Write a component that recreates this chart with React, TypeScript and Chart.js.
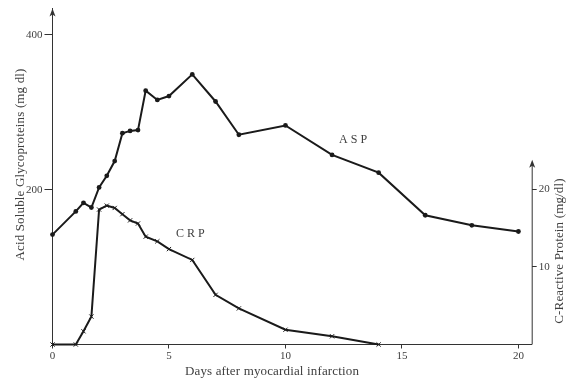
import React, { useEffect, useRef } from "react";
import { Chart, registerables } from "chart.js";

Chart.register(...registerables);

// Days after infarction at which acid soluble glycoproteins were sampled
const ASP_DAYS = [0, 1, 1.33, 1.67, 2, 2.33, 2.67, 3, 3.33, 3.67, 4, 4.5, 5, 6, 7, 8, 10, 12, 14, 16, 18, 20];
// Acid soluble glycoproteins, mg/dl
const ASP_VALUES = [142, 172, 183, 177, 203, 218, 237, 273, 276, 277, 328, 316, 321, 349, 314, 271, 283, 245, 222, 167, 154, 146];

// Days at which C-reactive protein was sampled
const CRP_DAYS = [0, 1, 1.33, 1.67, 2, 2.33, 2.67, 3, 3.33, 3.67, 4, 4.5, 5, 6, 7, 8, 10, 12, 14];
// C-reactive protein, mg/dl
const CRP_VALUES = [0, 0, 1.7, 3.6, 17.4, 17.9, 17.6, 16.8, 16.0, 15.6, 13.9, 13.3, 12.3, 10.9, 6.4, 4.65, 1.9, 1.06, 0];

const X_TICKS = [0, 5, 10, 15, 20];
const ASP_TICKS = [200, 400];
const CRP_TICKS = [10, 20];

const X_TITLE = "Days after myocardial infarction";
const ASP_TITLE = "Acid Soluble Glycoproteins (mg dl)";
const CRP_TITLE = "C-Reactive Protein (mg/dl)";
const ASP_LABEL = "A S P";
const CRP_LABEL = "C R P";

const SERIF = "'Liberation Serif', 'DejaVu Serif', serif";
const INK = "#1a1a1a";
const AXIS = "#333333";
const TEXT = "#404040";

const X_MAX = 20.57;
const ASP_MAX = 434;
const CRP_MAX = 43.3;
const CRP_AXIS_TOP = 23.8;

function arrowUp(ctx: CanvasRenderingContext2D, x: number, y: number) {
  ctx.beginPath();
  ctx.moveTo(x, y);
  ctx.lineTo(x - 3, y + 8);
  ctx.lineTo(x, y + 6);
  ctx.lineTo(x + 3, y + 8);
  ctx.closePath();
  ctx.fill();
}

const decorations = {
  id: "decorations",
  afterDraw(chart: any) {
    const { ctx, chartArea, scales } = chart;
    const x = scales.x;
    const yR = scales.y2;
    const yL = scales.y;
    ctx.save();
    ctx.strokeStyle = AXIS;
    ctx.fillStyle = AXIS;
    ctx.lineWidth = 1;

    // right-hand CRP axis only runs as high as its arrow
    const rx = chartArea.right + 0.5;
    const rTop = yR.getPixelForValue(CRP_AXIS_TOP);
    ctx.beginPath();
    ctx.moveTo(rx, chartArea.bottom);
    ctx.lineTo(rx, rTop + 4);
    ctx.stroke();
    arrowUp(ctx, rx, rTop);

    // arrow on the ASP axis
    arrowUp(ctx, chartArea.left, chartArea.top);

    // axis titles
    ctx.fillStyle = TEXT;
    ctx.font = `13px ${SERIF}`;
    (ctx as any).letterSpacing = "0.15px";
    ctx.textAlign = "center";
    ctx.textBaseline = "middle";
    ctx.fillText(X_TITLE, 272, 371.5);

    ctx.save();
    ctx.translate(20.5, 164.5);
    ctx.rotate(-Math.PI / 2);
    ctx.fillText(ASP_TITLE, 0, 0);
    ctx.restore();

    ctx.save();
    ctx.translate(560, 251);
    ctx.rotate(-Math.PI / 2);
    ctx.fillText(CRP_TITLE, 0, 0);
    ctx.restore();

    // series labels
    (ctx as any).letterSpacing = "0px";
    ctx.font = `12px ${SERIF}`;
    ctx.textAlign = "left";
    ctx.fillText(ASP_LABEL, x.getPixelForValue(12.3), yL.getPixelForValue(264));
    ctx.fillText(CRP_LABEL, x.getPixelForValue(5.3), yR.getPixelForValue(14.2));
    ctx.restore();
  },
};

export default function App() {
  const canvasRef = useRef<HTMLCanvasElement | null>(null);

  useEffect(() => {
    const canvas = canvasRef.current;
    if (!canvas) return;

    const tickFont = { family: SERIF, size: 11 };

    const chart = new Chart(canvas, {
      type: "line",
      data: {
        datasets: [
          {
            label: "ASP",
            data: ASP_DAYS.map((d, i) => ({ x: d, y: ASP_VALUES[i] })),
            yAxisID: "y",
            borderColor: INK,
            backgroundColor: INK,
            borderWidth: 2,
            pointStyle: "circle",
            pointRadius: 2.4,
            pointBorderWidth: 0,
            pointBackgroundColor: INK,
            tension: 0,
            clip: false as any,
          },
          {
            label: "CRP",
            data: CRP_DAYS.map((d, i) => ({ x: d, y: CRP_VALUES[i] })),
            yAxisID: "y2",
            borderColor: INK,
            backgroundColor: INK,
            borderWidth: 2,
            pointStyle: "crossRot",
            pointRadius: 3,
            pointBorderWidth: 1,
            pointBorderColor: INK,
            tension: 0,
            clip: false as any,
          },
        ],
      },
      options: {
        responsive: false,
        animation: false,
        devicePixelRatio: 1,
        layout: { padding: { top: 7, left: 0, right: 0, bottom: 0 } },
        plugins: {
          legend: { display: false },
          tooltip: { enabled: false },
        },
        scales: {
          x: {
            type: "linear",
            min: 0,
            max: X_MAX,
            afterBuildTicks: (s: any) => {
              s.ticks = X_TICKS.map((v) => ({ value: v }));
            },
            afterFit: (s: any) => {
              s.height = 36.5;
            },
            ticks: { font: tickFont, color: TEXT, padding: 1, maxRotation: 0 },
            grid: { drawOnChartArea: false, drawTicks: true, tickLength: 4, color: AXIS },
            border: { display: true, color: AXIS, width: 1 },
          },
          y: {
            type: "linear",
            position: "left",
            min: 0,
            max: ASP_MAX,
            afterBuildTicks: (s: any) => {
              s.ticks = ASP_TICKS.map((v) => ({ value: v }));
            },
            afterFit: (s: any) => {
              s.width = 52.5;
            },
            ticks: { font: tickFont, color: TEXT, padding: 2 },
            grid: { drawOnChartArea: false, drawTicks: true, tickLength: 8, color: AXIS },
            border: { display: true, color: AXIS, width: 1 },
          },
          y2: {
            type: "linear",
            position: "right",
            min: 0,
            max: CRP_MAX,
            afterBuildTicks: (s: any) => {
              s.ticks = CRP_TICKS.map((v) => ({ value: v }));
            },
            afterFit: (s: any) => {
              s.width = 42.3;
            },
            ticks: { font: tickFont, color: TEXT, padding: 2 },
            grid: { drawOnChartArea: false, drawTicks: true, tickLength: 5, color: AXIS },
            border: { display: false },
          },
        },
      },
      plugins: [decorations],
    });

    return () => chart.destroy();
  }, []);

  return (
    <div style={{ position: "fixed", left: 0, top: 0, width: 574, height: 381, background: "#fff" }}>
      <canvas ref={canvasRef} width={574} height={381} style={{ display: "block" }} />
    </div>
  );
}
